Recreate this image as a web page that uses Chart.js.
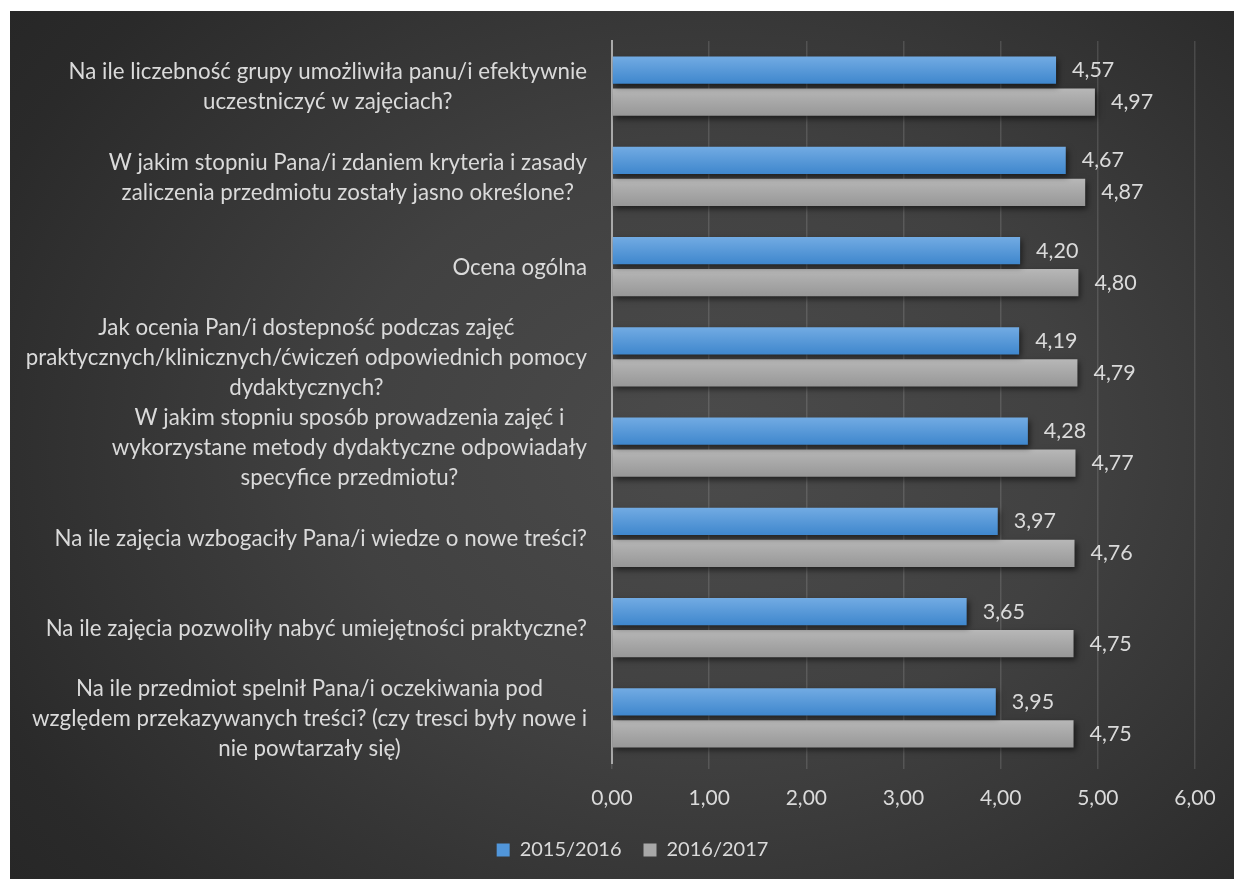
<!DOCTYPE html>
<html>
<head>
<meta charset="utf-8">
<script src="https://cdn.jsdelivr.net/npm/chart.js@4/dist/chart.umd.min.js"></script>
<style>
  html, body { margin: 0; padding: 0; background: #ffffff; }
  #wrap {
    position: absolute; left: 10px; top: 11px; width: 1224px; height: 868px;
    background: radial-gradient(ellipse 75% 85% at 57% 50%, #4b4b4b 0%, #414141 40%, #2a2a2a 85%, #262626 100%);
  }
  canvas { display: block; }
</style>
</head>
<body>
<div id="wrap"><canvas id="myChart" width="1224" height="868"></canvas></div>
<script>
const questions = [
  ['Na ile liczebność grupy umożliwiła panu/i efektywnie', 'uczestniczyć w zajęciach?'],
  ['W jakim stopniu Pana/i zdaniem kryteria i zasady', 'zaliczenia przedmiotu zostały jasno określone?'],
  ['Ocena ogólna'],
  ['Jak ocenia Pan/i dostepność podczas zajęć', 'praktycznych/klinicznych/ćwiczeń odpowiednich pomocy', 'dydaktycznych?'],
  ['W jakim stopniu sposób prowadzenia zajęć i', 'wykorzystane metody dydaktyczne odpowiadały', 'specyfice przedmiotu?'],
  ['Na ile zajęcia wzbogaciły Pana/i wiedze o nowe treści?'],
  ['Na ile zajęcia pozwoliły nabyć umiejętności praktyczne?'],
  ['Na ile przedmiot spelnił Pana/i oczekiwania pod', 'względem przekazywanych treści? (czy tresci były nowe i', 'nie powtarzały się)'],
];
const year1 = [4.57, 4.67, 4.20, 4.19, 4.28, 3.97, 3.65, 3.95];
const year2 = [4.97, 4.87, 4.80, 4.79, 4.77, 4.76, 4.75, 4.75];
const seriesNames = ['2015/2016', '2016/2017'];

const FONT = 'Lato';
const TEXT = '#dadada';
const gradTop = ['#72abe3', '#b7b7b7'];
const gradBottom = ['#3f87cd', '#979797'];

function fmt(v) {
  return Number(v).toFixed(2).replace('.', ',');
}

// gradient fill + drop shadow for bars, value labels after
const barStyle = {
  id: 'barStyle',
  beforeDatasetsDraw(chart) {
    const ctx = chart.ctx;
    chart.data.datasets.forEach((ds, i) => {
      chart.getDatasetMeta(i).data.forEach((bar) => {
        const top = bar.y - bar.height / 2;
        const g = ctx.createLinearGradient(0, top, 0, top + bar.height);
        g.addColorStop(0, gradTop[i]);
        g.addColorStop(1, gradBottom[i]);
        bar.options = Object.assign({}, bar.options, { backgroundColor: g });
      });
    });
    ctx.save();
    ctx.shadowColor = 'rgba(0,0,0,0.55)';
    ctx.shadowBlur = 6;
    ctx.shadowOffsetX = 2;
    ctx.shadowOffsetY = 3;
  },
  afterDatasetsDraw(chart) {
    const ctx = chart.ctx;
    ctx.restore();
    ctx.save();
    ctx.font = '21.5px ' + FONT;
    ctx.fillStyle = TEXT;
    ctx.textAlign = 'left';
    ctx.textBaseline = 'middle';
    chart.data.datasets.forEach((ds, i) => {
      chart.getDatasetMeta(i).data.forEach((bar, j) => {
        ctx.fillText(fmt(ds.data[j]), bar.x + 16, bar.y);
      });
    });
    ctx.restore();
  },
};

// category labels: centred lines, block right-aligned to the axis
const catLabels = {
  id: 'catLabels',
  afterDraw(chart) {
    const ctx = chart.ctx;
    const y = chart.scales.y;
    const right = chart.chartArea.left - 25;
    const lh = 30;
    ctx.save();
    ctx.font = '22.3px ' + FONT;
    ctx.fillStyle = TEXT;
    ctx.textAlign = 'center';
    ctx.textBaseline = 'middle';
    questions.forEach((lines, i) => {
      const w = Math.max(...lines.map((l) => ctx.measureText(l).width));
      const cx = right - w / 2;
      const cy = y.getPixelForValue(i) + 1;
      lines.forEach((l, k) => {
        ctx.fillText(l, cx, cy + (k - (lines.length - 1) / 2) * lh);
      });
    });
    ctx.restore();
  },
};

// nudge the legend right, as in the original
const legendShift = {
  id: 'legendShift',
  afterLayout(chart) {
    chart.legend.left += 30;
    chart.legend.right += 30;
  },
};

new Chart(document.getElementById('myChart').getContext('2d'), {
  type: 'bar',
  data: {
    labels: questions.map((q) => q.join(' ')),
    datasets: [
      {
        label: seriesNames[0],
        data: year1,
        backgroundColor: '#5196da',
        borderWidth: 0,
        categoryPercentage: 0.71,
        barPercentage: 0.845,
      },
      {
        label: seriesNames[1],
        data: year2,
        backgroundColor: '#a8a8a8',
        borderWidth: 0,
        categoryPercentage: 0.71,
        barPercentage: 0.845,
      },
    ],
  },
  options: {
    indexAxis: 'y',
    responsive: false,
    devicePixelRatio: 1,
    animation: false,
    layout: { padding: { top: 30, right: 39, left: 0, bottom: 9 } },
    scales: {
      x: {
        min: 0,
        max: 6,
        ticks: {
          stepSize: 1,
          color: TEXT,
          font: { family: FONT, size: 21 },
          padding: 17,
          callback: (v) => fmt(v),
        },
        grid: { color: 'rgba(255,255,255,0.13)', lineWidth: 1.5, tickLength: 6 },
        border: { display: false },
        afterFit: (s) => { s.height = 55; },
      },
      y: {
        ticks: { display: false },
        grid: { display: false },
        border: { color: '#a9a9a9', width: 2 },
        afterFit: (s) => { s.width = 602; },
      },
    },
    plugins: {
      tooltip: { enabled: false },
      legend: {
        position: 'bottom',
        labels: {
          color: TEXT,
          font: { family: FONT, size: 20 },
          boxWidth: 13,
          boxHeight: 13,
          padding: 22,
        },
      },
    },
  },
  plugins: [barStyle, catLabels, legendShift],
});
</script>
</body>
</html>
